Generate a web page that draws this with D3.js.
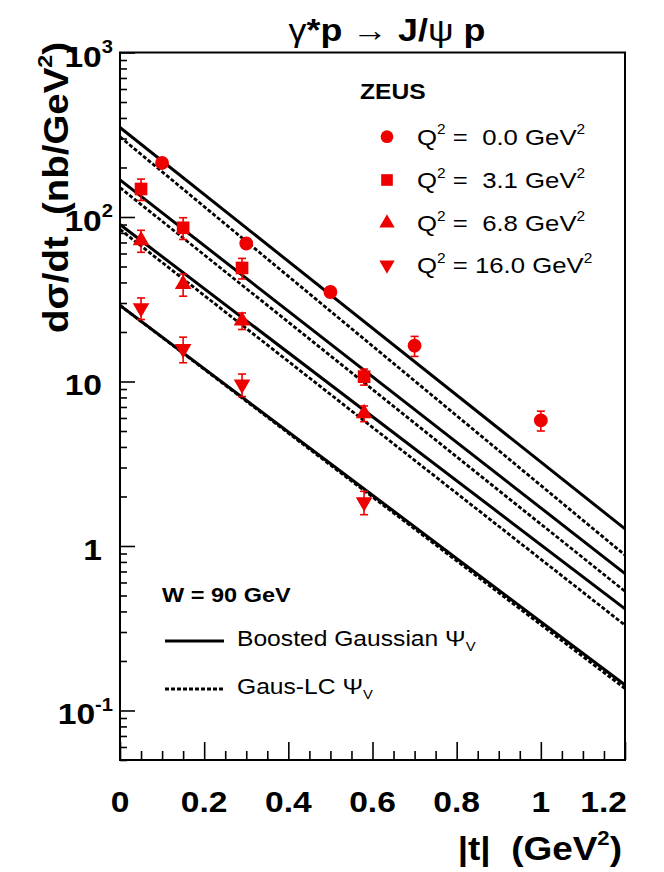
<!DOCTYPE html>
<html>
<head>
<meta charset="utf-8">
<script src="https://cdn.jsdelivr.net/npm/d3@7"></script>
<style>
  body { margin: 0; background: #fff; }
  svg text { font-family: "Liberation Sans", Arial, Helvetica, sans-serif; white-space: pre; fill: #000; }
</style>
</head>
<body>
<svg id="chart" width="664" height="872"></svg>
<script>
// ZEUS J/psi photoproduction / electroproduction, d(sigma)/dt at W = 90 GeV

// axis ticks
const xTickValues = [0, 0.2, 0.4, 0.6, 0.8, 1, 1.2];
const xTickLabels = ["0", "0.2", "0.4", "0.6", "0.8", "1", "1.2"];
const yTickValues = [0.1, 1, 10, 100, 1000];
const yTickBase = ["10", "1", "10", "10", "10"];
const yTickExp = ["-1", "", "", "2", "3"];

// legend
const q2Labels = [" =  0.0 GeV", " =  3.1 GeV", " =  6.8 GeV", " = 16.0 GeV"];

// data points (|t|, dsigma/dt, error)
const tQ00 = [0.1, 0.3, 0.5, 0.7, 1.0];
const dQ00 = [213, 69, 35, 16.5, 5.8];
const eQ00 = [12, 4, 2.5, 2.3, 0.8];

const tQ31 = [0.05, 0.15, 0.29, 0.58];
const dQ31 = [148, 86, 49, 10.7];
const eQ31 = [22, 13, 7, 1.2];

const tQ68 = [0.05, 0.15, 0.29, 0.58];
const dQ68 = [72, 39, 23.4, 6.4];
const eQ68 = [11, 6, 2.7, 0.7];

const tQ160 = [0.05, 0.15, 0.29, 0.58];
const dQ160 = [28, 15.8, 9.6, 1.85];
const eQ160 = [4.2, 2.8, 1.5, 0.3];

// model curves, read at the ends of the axis
const tCurve = [0, 1.2];
const bgQ00 = [350, 1.27];   // Boosted Gaussian
const lcQ00 = [307, 0.88];   // Gaus-LC
const bgQ31 = [168, 0.68];
const lcQ31 = [151, 0.53];
const bgQ68 = [90, 0.415];
const lcQ68 = [84, 0.33];
const bgQ160 = [29, 0.143];
const lcQ160 = [29, 0.136];

const red = "#ee0000";
const sx = 1.12; // the picture is a little wide

const svg = d3.select("#chart");
const pL = 120, pR = 625, pT = 52.5, pB = 760;

const x = d3.scaleLinear().domain([0, 1.2]).range([pL, pR]);
const y = d3.scaleLog().domain([0.05, 1000]).range([pB, pT]);

// text with a horizontal stretch
function addText(parent, px, py, size, anchor, weight) {
  return parent.append("text")
    .attr("transform", `translate(${px},${py}) scale(${sx},1)`)
    .attr("font-size", size)
    .attr("font-weight", weight || "normal")
    .attr("text-anchor", anchor || "start");
}
function sup(t, s) {
  t.append("tspan").attr("dy", "-0.75em").attr("font-size", "0.6em").text(s);
  return t;
}

// ---- ticks ----
const axes = svg.append("g");
const xMinor = d3.range(0, 1.2001, 0.05).filter(v => Math.abs(v / 0.2 - Math.round(v / 0.2)) > 1e-6);
axes.append("g")
  .attr("transform", `translate(0,${pB})`)
  .call(d3.axisBottom(x).tickValues(xMinor).tickSize(-9).tickFormat(""))
  .call(g => g.select(".domain").remove());
axes.append("g")
  .attr("transform", `translate(0,${pB})`)
  .call(d3.axisBottom(x).tickValues(xTickValues).tickSize(-18).tickFormat(""))
  .call(g => g.select(".domain").remove());

const yMinor = y.ticks().filter(v => yTickValues.indexOf(v) < 0 && v >= 0.05);
axes.append("g")
  .attr("transform", `translate(${pL},0)`)
  .call(d3.axisLeft(y).tickValues(yMinor).tickSize(-7).tickFormat(""))
  .call(g => g.select(".domain").remove());
axes.append("g")
  .attr("transform", `translate(${pL},0)`)
  .call(d3.axisLeft(y).tickValues(yTickValues).tickSize(-15).tickFormat(""))
  .call(g => g.select(".domain").remove());
axes.selectAll(".tick line").attr("stroke", "#000").attr("stroke-width", 1.6);

// tick labels
xTickValues.forEach((v, i) => {
  const last = i === xTickValues.length - 1;
  addText(svg, last ? pR + 2 : x(v), 812, 30, last ? "end" : "middle", "bold").text(xTickLabels[i]);
});
yTickValues.forEach((v, i) => {
  const t = addText(svg, yTickExp[i] ? 113 : 102, y(v) + 14, 30, "end", "bold").text(yTickBase[i]);
  if (yTickExp[i]) sup(t, yTickExp[i]);
});

// ---- curves ----
const clip = svg.append("clipPath").attr("id", "plotClip");
clip.append("rect").attr("x", pL).attr("y", pT).attr("width", pR - pL).attr("height", pB - pT);

const line = d3.line().x(d => x(d[0])).y(d => y(d[1]));
const curves = [
  [bgQ00, false], [lcQ00, true], [bgQ31, false], [lcQ31, true],
  [bgQ68, false], [lcQ68, true], [bgQ160, false], [lcQ160, true]
];
const cg = svg.append("g").attr("clip-path", "url(#plotClip)");
curves.forEach(([vals, dashed]) => {
  cg.append("path")
    .attr("d", line(tCurve.map((t, i) => [t, vals[i]])))
    .attr("fill", "none")
    .attr("stroke", "#000")
    .attr("stroke-width", dashed ? 2.8 : 3)
    .attr("stroke-dasharray", dashed ? "4,2" : null);
});

// ---- data points ----
const sets = [
  { t: tQ00, d: dQ00, e: eQ00, sym: d3.symbolCircle, size: 150, rot: 0 },
  { t: tQ31, d: dQ31, e: eQ31, sym: d3.symbolSquare, size: 160, rot: 0 },
  { t: tQ68, d: dQ68, e: eQ68, sym: d3.symbolTriangle, size: 120, rot: 0 },
  { t: tQ160, d: dQ160, e: eQ160, sym: d3.symbolTriangle, size: 120, rot: 180 }
];
const pg = svg.append("g");
sets.forEach(s => {
  s.t.forEach((t, i) => {
    const px = x(t), y0 = y(s.d[i] - s.e[i]), y1 = y(s.d[i] + s.e[i]);
    pg.append("line").attr("x1", px).attr("x2", px).attr("y1", y0).attr("y2", y1)
      .attr("stroke", red).attr("stroke-width", 1.6);
    [y0, y1].forEach(yy => pg.append("line")
      .attr("x1", px - 4).attr("x2", px + 4).attr("y1", yy).attr("y2", yy)
      .attr("stroke", red).attr("stroke-width", 1.6));
    pg.append("path")
      .attr("d", d3.symbol(s.sym, s.size)())
      .attr("transform", `translate(${px},${y(s.d[i])}) rotate(${s.rot})`)
      .attr("fill", red);
  });
});

// ---- frame ----
svg.append("rect").attr("x", pL).attr("y", pT).attr("width", pR - pL).attr("height", pB - pT)
  .attr("fill", "none").attr("stroke", "#000").attr("stroke-width", 2);

// ---- titles ----
const title = addText(svg, 387, 41, 32, "middle");
title.append("tspan").text("γ");
title.append("tspan").attr("font-weight", "bold").text("*p");
title.append("tspan").text(" → ");
title.append("tspan").attr("font-weight", "bold").text("J/");
title.append("tspan").text("ψ");
title.append("tspan").attr("font-weight", "bold").text(" p");

const xl = addText(svg, 622, 860, 33, "end", "bold").text("|t|  (GeV");
sup(xl, "2");
xl.append("tspan").attr("dy", "0.45em").attr("font-size", "1em").text(")");

const yl = svg.append("text")
  .attr("transform", `translate(68,42) scale(${sx},1) rotate(-90) scale(1.24,1)`)
  .attr("font-size", 31).attr("font-weight", "bold").attr("text-anchor", "end");
yl.append("tspan").text("dσ/dt  (nb/GeV");
sup(yl, "2");
yl.append("tspan").attr("dy", "0.45em").attr("font-size", "1em").text(")");

// ---- legend: data ----
addText(svg, 360, 99, 22, "start", "bold").text("ZEUS");
const legY = [136.7, 180, 223, 265];
sets.forEach((s, i) => {
  svg.append("path")
    .attr("d", d3.symbol(s.sym, s.size * 0.85)())
    .attr("transform", `translate(387,${legY[i]}) rotate(${s.rot})`)
    .attr("fill", red);
  const t = addText(svg, 417, legY[i] + 8, 23, "start").text("Q");
  sup(t, "2");
  t.append("tspan").attr("dy", "0.45em").attr("font-size", "1em").text(q2Labels[i]);
  sup(t, "2");
});

// ---- legend: models ----
addText(svg, 162, 602, 21, "start", "bold").text("W = 90 GeV");
svg.append("line").attr("x1", 165).attr("x2", 224).attr("y1", 641).attr("y2", 641)
  .attr("stroke", "#000").attr("stroke-width", 3);
svg.append("line").attr("x1", 165).attr("x2", 224).attr("y1", 689).attr("y2", 689)
  .attr("stroke", "#000").attr("stroke-width", 2.8).attr("stroke-dasharray", "4,2");
const m1 = addText(svg, 237, 646, 22, "start").text("Boosted Gaussian Ψ");
m1.append("tspan").attr("dy", "0.35em").attr("font-size", "0.6em").text("V");
const m2 = addText(svg, 237, 694, 22, "start").text("Gaus-LC Ψ");
m2.append("tspan").attr("dy", "0.35em").attr("font-size", "0.6em").text("V");
</script>
</body>
</html>
